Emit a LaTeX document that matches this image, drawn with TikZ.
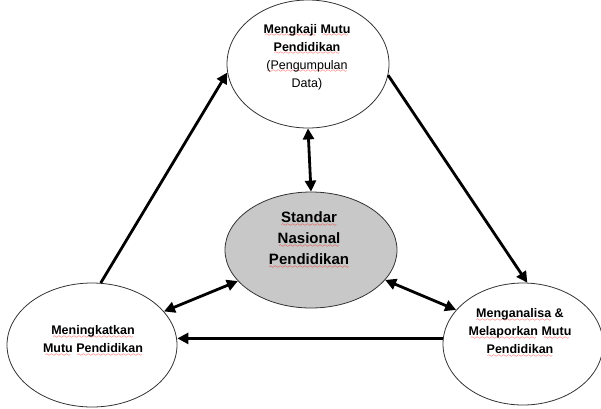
\documentclass[tikz,border=0pt]{standalone}
\usepackage{fontspec}
\setmainfont{Liberation Sans}
\usetikzlibrary{shapes.geometric,arrows.meta}
\font\wavefont=lasy6
\newcommand\rw[1]{\leavevmode\setbox0=\hbox{#1}\rlap{\lower3.4pt\hbox to\wd0{\color{red}\cleaders\hbox{\wavefont\char58}\hfil}}\box0\relax}
\definecolor{cgray}{RGB}{200,200,200}
\tikzset{
  ell/.style={ellipse, draw=black!80, line width=0.8pt, inner sep=0pt},
  lbl/.style={align=center, inner sep=0pt, font=\fontsize{12.5}{18}\selectfont},
  arr/.style={line width=2.8pt, -{Triangle[length=11pt,width=11pt]}},
  darr/.style={line width=2.8pt, {Triangle[length=11pt,width=11pt]}-{Triangle[length=11pt,width=11pt]}}
}
\begin{document}
\begin{tikzpicture}[x=1pt,y=-1pt]
\useasboundingbox (0,0) rectangle (601,408);
\node[ell, minimum width=162pt, minimum height=128pt] (T) at (308,64) {};
\node[ell, fill=cgray, minimum width=172pt, minimum height=116pt] (C) at (311,250) {};
\node[ell, minimum width=170pt, minimum height=124pt] (L) at (92,345) {};
\node[ell, minimum width=160pt, minimum height=122pt] (R) at (523,344) {};

\node[lbl] (Tt) at (307,57) {\textbf{\rw{Mengkaji} \rw{Mutu}}\\\textbf{\rw{Pendidikan}}\\\rw{(Pengumpulan}\\Data)};
\node[lbl, font=\fontsize{15}{21}\selectfont\bfseries] (Ct) at (309,240) {\rw{Standar}\\\rw{Nasional}\\\rw{Pendidikan}};
\node[lbl, font=\fontsize{12.5}{18}\selectfont\bfseries] (Lt) at (93,341) {\rw{Meningkatkan}\\\rw{Mutu} \rw{Pendidikan}};
\node[lbl, font=\fontsize{12.5}{18}\selectfont\bfseries] (Rt) at (520,333) {\rw{Menganalisa} \&\\\rw{Melaporkan} \rw{Mutu}\\\rw{Pendidikan}};

\draw[arr] (L.82) -- (T.186);
\draw[arr] (T.-8) -- (R.86);
\draw[darr] (T.south) -- (C.north);
\draw[darr] (C.203) -- (L.25);
\draw[darr] (C.-22) -- (R.153);
\draw[arr] (R.176) -- (R.176 -| L.east);
\end{tikzpicture}
\end{document}
